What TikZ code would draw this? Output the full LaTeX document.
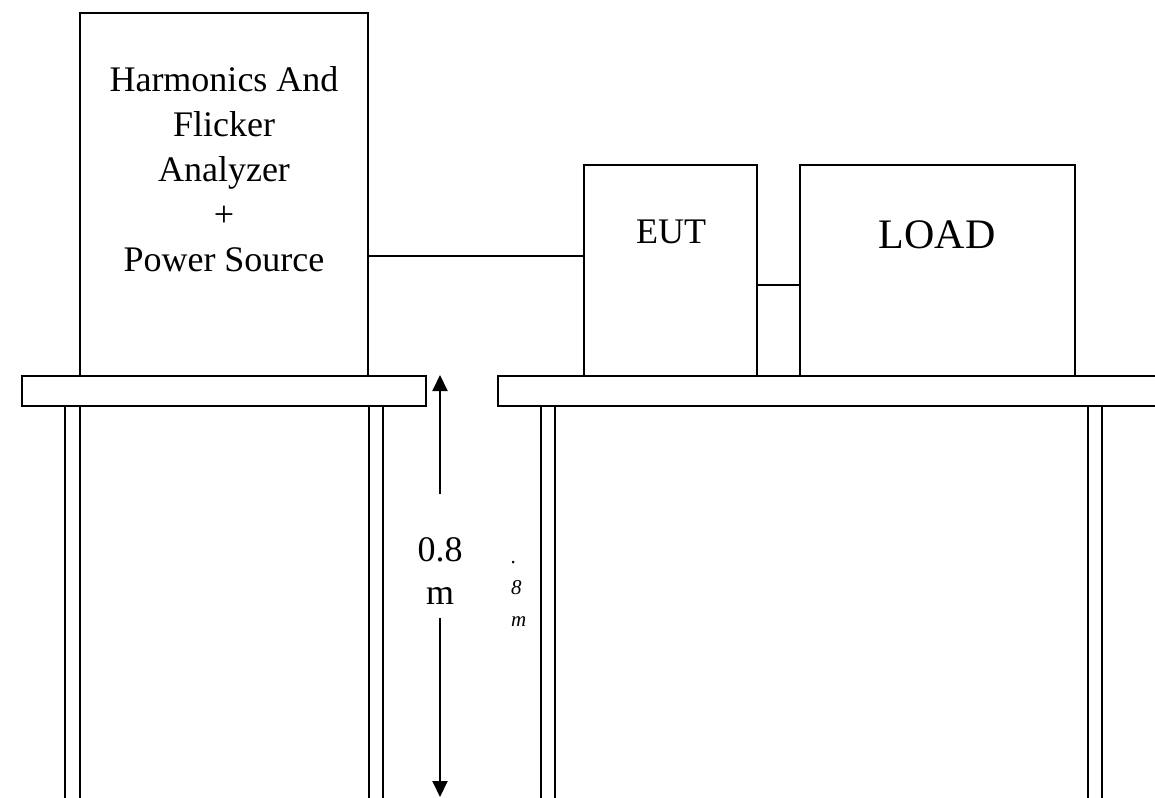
\documentclass[tikz,border=0pt]{standalone}
\usepackage{fontspec}
\setmainfont{Liberation Serif}
\usetikzlibrary{arrows.meta}
\begin{document}
\begin{tikzpicture}[x=1pt,y=-1pt,line width=2pt,
  box/.style={draw,line width=2pt,inner sep=0pt,outer sep=0pt},
  lbl/.style={inner sep=0pt,font=\fontsize{36}{45}\selectfont,align=center},
  dimarrow/.style={-{Triangle[length=16pt,width=15pt]},line width=2pt},
  smalllbl/.style={inner sep=0pt,font=\itshape\fontsize{21}{31.5}\selectfont,align=left}]
\useasboundingbox (0,0) rectangle (1155,797);

% equipment boxes
\node[box,minimum width=288pt,minimum height=363pt] (ana) at (224,194.5) {};
\node[lbl] (anatext) at (224,169) {Harmonics And\\Flicker\\Analyzer\\+\\Power Source};
\node[box,minimum width=173pt,minimum height=211pt] (eut) at (670.5,270.5) {};
\node[lbl,anchor=base] (euttext) at (671,243) {EUT};
\node[box,minimum width=275pt,minimum height=211pt] (load) at (937.5,270.5) {};
\node[inner sep=0pt,anchor=base,font=\fontsize{42}{50}\selectfont] (loadtext) at (937,248) {LOAD};

% cables
\coordinate (w1) at (0,256);
\coordinate (w2) at (0,285);
\draw (ana.east |- w1) -- (eut.west |- w1);
\draw (eut.east |- w2) -- (load.west |- w2);

% tables
\draw (22,376) rectangle (426,406);
\draw (1160,376) -- (498,376) -- (498,406) -- (1160,406);
\foreach \x in {65,80,368.5,383,541,555,1088,1102}
  \draw (\x,406) -- (\x,800);

% height dimension
\coordinate (aTop) at (440,375);
\coordinate (aUp) at (440,494);
\coordinate (aLow) at (440,618);
\coordinate (aBot) at (440,797);
\draw[dimarrow] (aUp) -- (aTop);
\draw[dimarrow] (aLow) -- (aBot);
\node[lbl,font=\fontsize{36}{43}\selectfont] (dimtext) at (440,571) {0.8\\m};
\node[smalllbl,anchor=west] (dimsmall) at (510,593.5) {.\\8\\m};
\end{tikzpicture}
\end{document}
